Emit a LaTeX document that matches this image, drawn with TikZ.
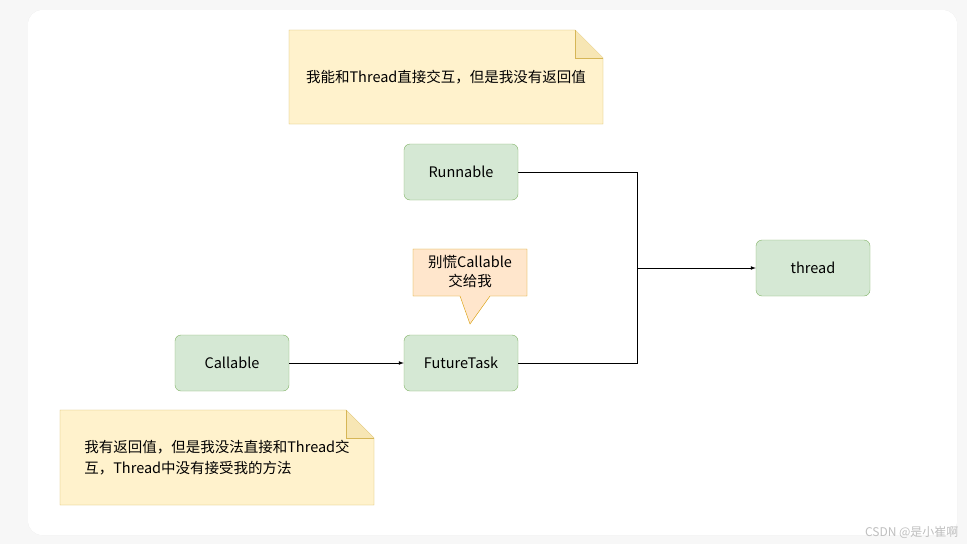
\documentclass[tikz,border=0pt]{standalone}
\usepackage{fontspec}
\setmainfont{Noto Sans CJK SC}
\usetikzlibrary{shapes.callouts,shadows}
\definecolor{greenfill}{HTML}{D5E8D4}
\definecolor{greenline}{HTML}{82B366}
\definecolor{notefill}{HTML}{FFF2CC}
\definecolor{noteline}{HTML}{D6B656}
\definecolor{tipfill}{HTML}{FFE6CC}
\definecolor{tipline}{HTML}{D79B00}
\tikzset{
  box/.style={draw=greenline,fill=greenfill,rounded corners=6pt,minimum width=114pt,minimum height=56pt,font=\fontsize{14.5}{17}\selectfont},
  conn/.style={line width=0.7pt},
}
\begin{document}
\begin{tikzpicture}[x=1pt,y=-1pt]
  \useasboundingbox (0,0) rectangle (967,544);
  \fill[black!3] (0,0) rectangle (967,544);
  \fill[white,rounded corners=14pt,drop shadow={opacity=0.2,shadow xshift=0pt,shadow yshift=0pt}] (28,10) rectangle (957,535);

  % notes
  \draw[draw=noteline,fill=notefill] (289,30) -- (575,30) -- (603,58) -- (603,124) -- (289,124) -- cycle;
  \draw[draw=noteline,fill=notefill!80!noteline] (575,30) -- (575,58) -- (603,58);
  \node[font=\fontsize{14.5}{17}\selectfont] (topnote) at (446,77) {我能和Thread直接交互，但是我没有返回值};

  \draw[draw=noteline,fill=notefill] (60,410) -- (346,410) -- (374,438) -- (374,505) -- (60,505) -- cycle;
  \draw[draw=noteline,fill=notefill!80!noteline] (346,410) -- (346,438) -- (374,438);
  \node[font=\fontsize{14.5}{21}\selectfont,align=left] (botnote) at (217,458) {我有返回值，但是我没法直接和Thread交\\互，Thread中没有接受我的方法};

  % blocks
  \node[box] (runnable) at (461,172) {Runnable};
  \node[box] (thread) at (813,268) {thread};
  \node[box] (callable) at (232,363) {Callable};
  \node[box] (future) at (461,363) {FutureTask};

  \draw[draw=tipline,fill=tipfill] (413,249) -- (527,249) -- (527,296) -- (490,296) -- (470,324) -- (460,296) -- (413,296) -- cycle;
  \node[font=\fontsize{14.5}{19}\selectfont,align=center] (tip) at (470,272) {别慌Callable\\交给我};

  \coordinate (join) at (637,268);
  \draw[conn,-latex] (callable) -- (future);
  \draw[conn] (runnable.east) -| (join);
  \draw[conn] (future.east) -| (join);
  \draw[conn,-latex] (join) -- (thread);

  \node[text=black!25,font=\fontsize{12}{14}\selectfont,anchor=east] (mark) at (962,532) {CSDN @是小崔啊};
\end{tikzpicture}
\end{document}
